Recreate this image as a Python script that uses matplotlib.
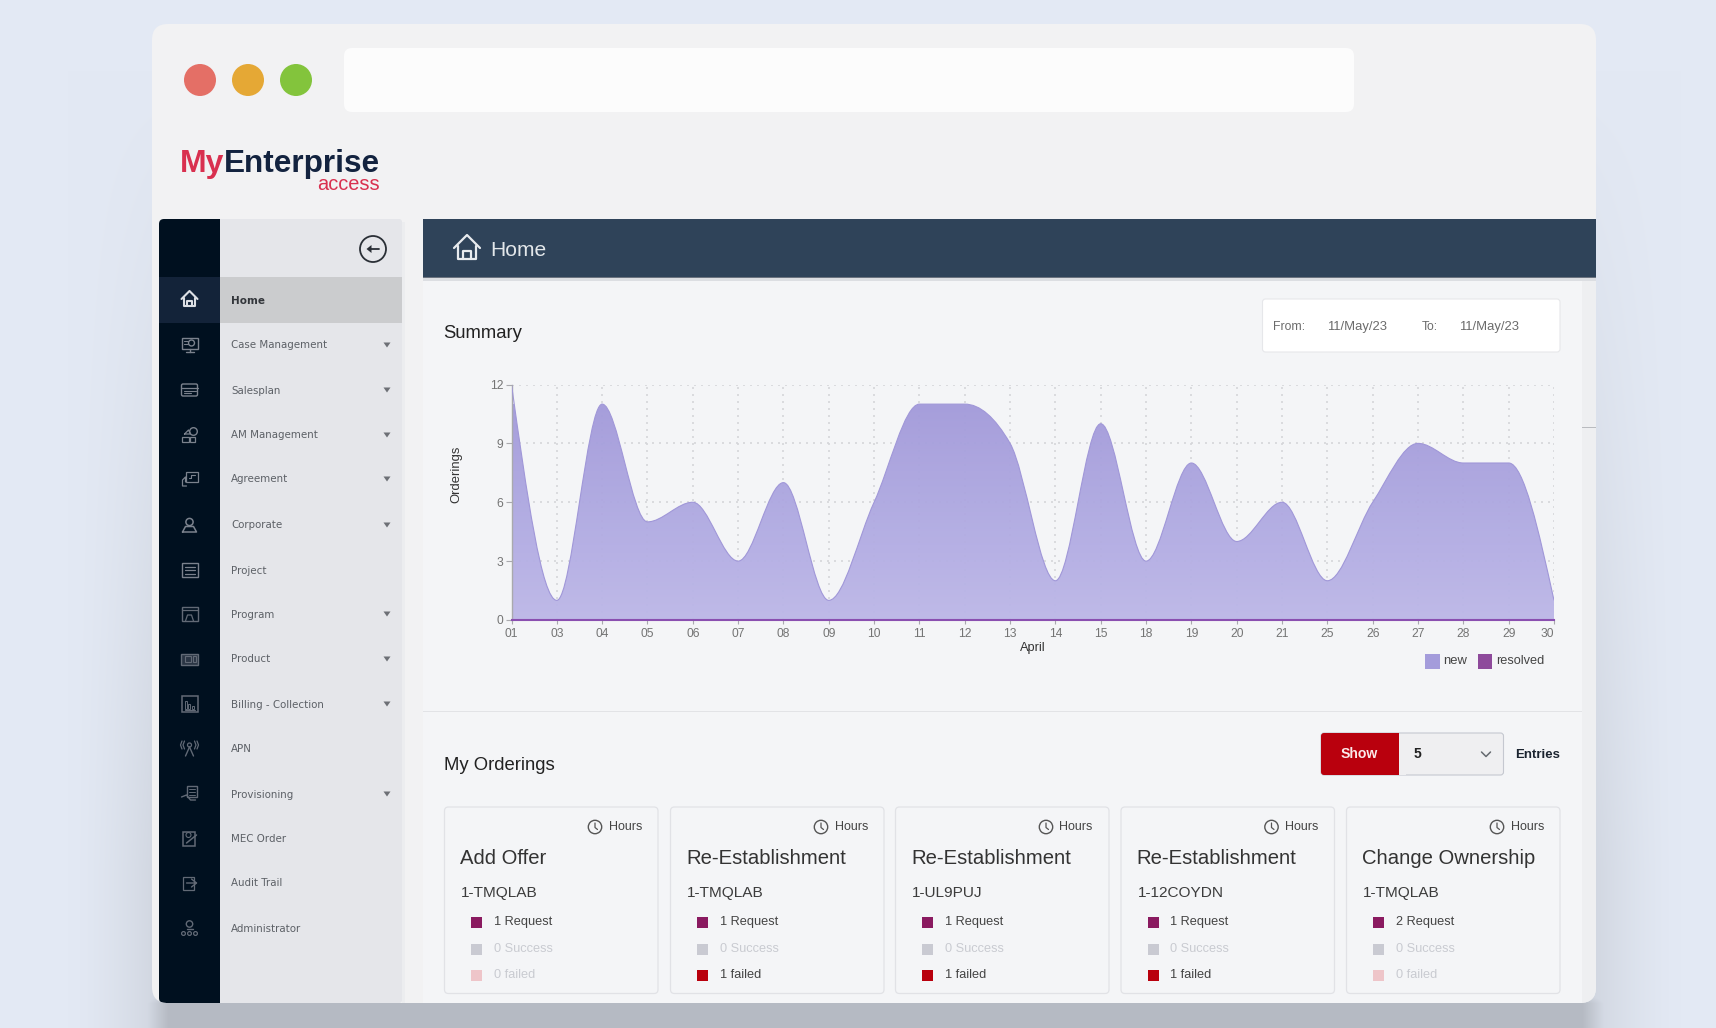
import numpy as np
import matplotlib
matplotlib.use("Agg")
import matplotlib.pyplot as plt
from matplotlib.patches import Rectangle, FancyBboxPatch, Circle, Polygon, PathPatch
from matplotlib.path import Path

# chart data
days = ["01", "03", "04", "05", "06", "07", "08", "09", "10", "11", "12", "13",
        "14", "15", "18", "19", "20", "21", "25", "26", "27", "28", "29", "30"]
new_orders = [12, 1, 11, 5, 6, 3, 7, 1, 6, 11, 11, 9, 2, 10, 3, 8, 4, 6, 2, 6, 9, 8, 8, 1]
resolved_orders = [0] * 24
y_ticks = [0, 3, 6, 9, 12]

# sidebar
menu_items = ["Home", "Case Management", "Salesplan", "AM Management", "Agreement", "Corporate",
              "Project", "Program", "Product", "Billing - Collection", "APN", "Provisioning",
              "MEC Order", "Audit Trail", "Administrator"]
menu_has_arrow = [0, 1, 1, 1, 1, 1, 0, 1, 1, 1, 0, 1, 0, 0, 0]
menu_y = [300, 345, 390, 435, 479, 525, 570, 614, 659, 704, 749, 794, 838, 883, 928]

# order cards
card_titles = ["Add Offer", "Re-Establishment", "Re-Establishment", "Re-Establishment", "Change Ownership"]
card_ids = ["1-TMQLAB", "1-TMQLAB", "1-UL9PUJ", "1-12COYDN", "1-TMQLAB"]
card_requests = [1, 1, 1, 1, 2]
card_success = [0, 0, 0, 0, 0]
card_failed = [0, 1, 1, 1, 0]
card_x = [444.5, 670.5, 895.5, 1121, 1346.5]

W, H = 1716, 1028
SANS = "Liberation Sans"
fig = plt.figure(figsize=(W / 100, H / 100), dpi=100)
ui = fig.add_axes([0, 0, 1, 1])
ui.set_xlim(0, W)
ui.set_ylim(H, 0)
ui.axis("off")


def px(size):
    return size * 0.72


def rect(x0, y0, x1, y1, color, z=2, **kw):
    ui.add_patch(Rectangle((x0, y0), x1 - x0, y1 - y0, fc=color, ec="none", zorder=z, **kw))


def rrect(x0, y0, x1, y1, r, color, edge="none", lw=1, z=2):
    p = FancyBboxPatch((x0 + r, y0 + r), x1 - x0 - 2 * r, y1 - y0 - 2 * r,
                       boxstyle=f"round,pad={r},rounding_size={r}",
                       fc=color, ec=edge, lw=lw, zorder=z)
    ui.add_patch(p)
    return p


def label(x, y, s, size, color="#333333", weight="normal", ha="left", va="center", family=SANS, **kw):
    ui.text(x, y, s, fontsize=px(size), color=color, fontweight=weight, ha=ha, va=va,
            family=family, zorder=6, **kw)


def line(xs, ys, color, lw=1.0, z=5):
    ui.plot(xs, ys, color=color, lw=lw, zorder=z, solid_capstyle="round", solid_joinstyle="round")


def box(x0, y0, x1, y1, color, lw=1.0, fill="none"):
    ui.add_patch(Rectangle((x0, y0), x1 - x0, y1 - y0, fc=fill, ec=color, lw=lw, zorder=5))


def ring(cx, cy, r, color, lw=1.0):
    ui.add_patch(Circle((cx, cy), r, fc="none", ec=color, lw=lw, zorder=5))


def house(cx, cy, s, color, lw):
    line([cx - s, cx, cx + s], [cy, cy - s, cy], color, lw)
    line([cx - 0.72 * s, cx - 0.72 * s, cx + 0.72 * s, cx + 0.72 * s],
         [cy - 0.15 * s, cy + s * 0.85, cy + s * 0.85, cy - 0.15 * s], color, lw)
    line([cx - 0.28 * s, cx - 0.28 * s, cx + 0.28 * s, cx + 0.28 * s],
         [cy + s * 0.85, cy + 0.25 * s, cy + 0.25 * s, cy + s * 0.85], color, lw)


def sidebar_icon(i, cx, cy):
    c = "#7b828d" if i < 7 else "#626a76"
    if i == 0:
        house(cx, cy - 1, 8, "#dcdfe4", 1.5)
    elif i == 1:
        box(cx - 8, cy - 7, cx + 8, cy + 4, c)
        ring(cx + 2, cy - 2, 3, c)
        line([cx - 6, cx - 2], [cy - 4, cy - 4], c, 0.8)
        line([cx - 6, cx - 2], [cy - 1, cy - 1], c, 0.8)
        line([cx - 4, cx + 4], [cy + 7, cy + 7], c, 1.0)
        line([cx, cx], [cy + 4, cy + 7], c, 1.0)
    elif i == 2:
        rrect(cx - 8, cy - 6, cx + 8, cy + 6, 1.5, "none", edge=c, lw=1.0, z=5)
        line([cx - 8, cx + 8], [cy - 2.5, cy - 2.5], c, 0.9)
        line([cx - 6, cx + 6], [cy + 0.5, cy + 0.5], c, 0.8)
        line([cx - 6, cx + 1], [cy + 3.2, cy + 3.2], c, 0.8)
    elif i == 3:
        ring(cx + 4, cy - 3.5, 3.8, c)
        line([cx - 5, cx - 1, cx + 1, cx - 5], [cy - 1, cy - 5, cy - 1, cy - 1], c, 0.9)
        box(cx - 8, cy + 1.5, cx - 1, cy + 7, c, 0.9)
        box(cx, cy + 1.5, cx + 5, cy + 7, c, 0.9)
    elif i == 4:
        box(cx - 4, cy - 7, cx + 8, cy + 3, c, 0.9)
        line([cx - 4, cx - 4, cx - 7, cx - 7, cx - 3], [cy + 3, cy - 2, cy + 1, cy + 7, cy + 7], c, 0.9)
        line([cx - 1, cx + 1, cx + 1, cx + 5], [cy - 1, cy - 1, cy - 4, cy - 4], c, 0.8)
    elif i == 5:
        ring(cx, cy - 3, 3.6, c, 1.1)
        line([cx - 7, cx - 4, cx + 4, cx + 7, cx - 7], [cy + 7, cy + 1.5, cy + 1.5, cy + 7, cy + 7], c, 1.1)
    elif i == 6:
        box(cx - 8, cy - 7, cx + 8, cy + 7, c)
        for k in (-3.5, 0, 3.5):
            line([cx - 5, cx + 5], [cy + k, cy + k], c, 0.9)
    elif i == 7:
        box(cx - 8, cy - 7, cx + 8, cy + 7, c)
        line([cx - 8, cx + 8], [cy - 4, cy - 4], c, 0.9)
        line([cx - 4, cx - 2, cx + 2, cx + 4], [cy + 7, cy + 1, cy + 1, cy + 7], c, 0.9)
    elif i == 8:
        box(cx - 8.5, cy - 5.5, cx + 8.5, cy + 5.5, c, 1.0, fill="#2a3544")
        box(cx - 5, cy - 3, cx + 1, cy + 3, c, 0.8)
        box(cx + 3, cy - 3, cx + 6, cy + 3, c, 0.8)
    elif i == 9:
        box(cx - 8, cy - 8, cx + 8, cy + 8, c, 1.1)
        for k, h in enumerate([8, 5, 3]):
            box(cx - 5 + k * 3.5, cy + 5 - h, cx - 3 + k * 3.5, cy + 5, c, 0.7)
        line([cx - 5, cx + 5], [cy + 5.5, cy + 5.5], c, 0.8)
    elif i == 10:
        line([cx, cx - 4], [cy - 2, cy + 7], c, 1.0)
        line([cx, cx + 4], [cy - 2, cy + 7], c, 1.0)
        ring(cx, cy - 4, 2, c, 0.9)
        for sx in (-1, 1):
            line([cx + sx * 5, cx + sx * 6.5, cx + sx * 5], [cy - 8, cy - 4, cy], c, 0.9)
            line([cx + sx * 7.5, cx + sx * 9, cx + sx * 7.5], [cy - 8, cy - 4, cy], c, 0.9)
    elif i == 11:
        box(cx - 3, cy - 8, cx + 7, cy + 3, c, 1.0)
        for k in (-5, -2, 1):
            line([cx - 1, cx + 5], [cy + k, cy + k], c, 0.7)
        line([cx - 8, cx - 3, cx + 1, cx + 6], [cy + 3, cy + 1, cy + 6, cy + 6], c, 1.0)
    elif i == 12:
        box(cx - 6.5, cy - 6, cx + 5, cy + 8, c, 1.1)
        ring(cx - 1, cy - 3, 2.5, c, 0.8)
        line([cx - 3, cx + 7], [cy + 5, cy - 3], c, 1.1)
    elif i == 13:
        box(cx - 7, cy - 6.5, cx + 4, cy + 6.5, c, 0.9)
        line([cx - 3, cx + 7, cx + 2], [cy, cy, cy - 4], c, 1.0)
        line([cx + 7, cx + 2], [cy, cy + 4], c, 1.0)
    else:
        ring(cx, cy - 4, 3.2, c, 1.0)
        line([cx - 3, cx + 3], [cy + 1, cy + 1], c, 1.0)
        for dx in (-6, 0, 6):
            ring(cx + dx, cy + 5.5, 1.9, c, 0.9)


# page background and the soft window shadow, weak at the top, heavier to the bottom
yy, xx = np.mgrid[0:H, 0:W]
dist_x = np.maximum(np.maximum(152 - xx, xx - 1596), 0)
side_strength = 0.075 * np.clip((yy - 70) / 800, 0, 1)
side = side_strength * np.clip(1 - dist_x / 85, 0, 1) ** 1.5
dist_b = np.maximum(np.maximum(168 - xx, xx - 1582), 0)
under = 0.2 * np.clip(1 - dist_b / 32, 0, 1) * np.clip((yy - 985) / 18, 0, 1)
shade = np.maximum(side, under)
base = np.array([227, 233, 244]) / 255
ui.imshow((base[None, None, :] * (1 - shade[..., None])), extent=(0, W, H, 0), aspect="auto", zorder=0)

# window
window = rrect(152, 24, 1596, 1003, 16, "#f2f2f3", z=1)
for cx, col in zip([200, 248, 296], ["#e46f66", "#e5a835", "#83c43c"]):
    ui.add_patch(Circle((cx, 80), 16, fc=col, ec="none", zorder=3))
rrect(344, 48, 1354, 112, 8, "#fcfcfc")

# logo
label(180, 172, "My", 32, "#d9304f", "bold", va="baseline")
label(380, 172, "Enterprise", 31.5, "#13233f", "bold", ha="right", va="baseline")
label(380, 190, "access", 20, "#d9304f", ha="right", va="baseline")

# sidebar
rrect(159, 219, 180, 1003, 5, "#00101f")
rect(166, 219, 220, 1003, "#00101f")
rect(220, 219, 397, 1003, "#e5e6ea")
rrect(380, 219, 402, 1003, 3, "#e5e6ea")
rect(402, 222, 405, 1003, "#ecedef", z=1.5)
rect(159, 277, 220, 323, "#132339", z=3)
rect(220, 277, 402, 323, "#cbccce", z=3)
ring(373, 249, 13, "#2a2f36", 1.3)
line([379, 370], [249, 249], "#2a2f36", 1.3)
ui.add_patch(Polygon([(366.5, 249), (371.5, 245), (371.5, 253)], fc="#2a2f36", ec="none", zorder=5))
for i, (item, y) in enumerate(zip(menu_items, menu_y)):
    if i == 0:
        label(231, y + 1, item, 10.4, "#33363b", "bold", family="DejaVu Sans")
    else:
        label(231, y + 0.5, item, 10.2, "#5c6066", family="DejaVu Sans")
    if menu_has_arrow[i]:
        ui.add_patch(Polygon([(383.5, y - 2.5), (390.5, y - 2.5), (387, y + 2.5)], fc="#6d7076", ec="none", zorder=5))
    sidebar_icon(i, 189.5, y)

# header bar
rect(423, 219, 1596, 277, "#2f4359", z=3)
rect(423, 277, 1596, 278, "#6c7480", z=3)
rect(423, 278, 1596, 280.5, "#dcdee2", z=3)
house(467, 248, 13, "#e8ebee", 1.6)
label(490, 251, "Home", 21, "#e3e7ea")

# main panel
rect(423, 280.5, 1582, 1003, "#f4f5f7")
rect(1582, 280.5, 1596, 1003, "#eeeff1")
rect(1582, 426.5, 1596, 427.5, "#b9bbbf", z=3)
rect(423, 710.5, 1582, 711.5, "#e2e3e6", z=3)
label(443, 334, "Summary", 18.5, "#222222")
rrect(1262.5, 299, 1560, 352, 3, "#ffffff", edge="#e6e7ea", lw=0.8)
label(1273, 327, "From:", 12.2, "#6b6b6b")
label(1327, 327, "11/May/23", 13, "#6b6b6b")
label(1422, 327, "To:", 12.2, "#6b6b6b")
label(1459, 327, "11/May/23", 13, "#6b6b6b")

# chart
ax_l, ax_r, ax_t, ax_b = 511.5, 1554, 384.5, 620
ax = fig.add_axes([ax_l / W, 1 - ax_b / H, (ax_r - ax_l) / W, (ax_b - ax_t) / H])
ax.patch.set_alpha(0)
x = np.arange(len(days))
y = np.array(new_orders, dtype=float)

# same curve as d3 monotoneX: cubic segments with limited tangents
s = np.diff(y)
t = np.zeros(len(y))
t[1:-1] = (np.sign(s[:-1]) + np.sign(s[1:])) * np.minimum(np.minimum(np.abs(s[:-1]), np.abs(s[1:])),
                                                         0.25 * np.abs(s[:-1] + s[1:]))
t[0] = (3 * s[0] - t[1]) / 2
t[-1] = (3 * s[-1] - t[-2]) / 2
verts = [(x[0], y[0])]
for i in range(len(x) - 1):
    verts += [(x[i] + 1 / 3, y[i] + t[i] / 3), (x[i + 1] - 1 / 3, y[i + 1] - t[i + 1] / 3), (x[i + 1], y[i + 1])]
codes = [Path.MOVETO] + [Path.CURVE4] * (len(verts) - 1)
top_curve = Path(verts, codes)
area = Path(verts + [(x[-1], 0), (x[0], 0), (x[0], y[0])],
            codes + [Path.LINETO, Path.LINETO, Path.CLOSEPOLY])

ax.set_xlim(0, len(days) - 1)
ax.set_ylim(0, 12)
ax.grid(True, color="#d5d6da", linestyle=(0, (1.2, 3)), linewidth=1.2, zorder=1)
ax.set_axisbelow(True)
top_col = np.array([0xa2, 0x9a, 0xda]) / 255
bot_col = np.array([0xbc, 0xb7, 0xe8]) / 255
frac = np.linspace(0, 1, 256)[:, None, None]
grad = top_col[None, None, :] * (1 - frac) + bot_col[None, None, :] * frac
img = ax.imshow(grad, extent=(0, len(days) - 1, 0, 11), aspect="auto", alpha=0.95, zorder=2, origin="upper")
clip = PathPatch(area, transform=ax.transData, fc="none", ec="none")
ax.add_patch(clip)
img.set_clip_path(clip)
ax.set_xlim(0, len(days) - 1)
ax.set_ylim(0, 12)
ax.add_patch(PathPatch(top_curve, fc="none", ec="#a097d8", lw=0.8, zorder=3))
ax.plot(x, resolved_orders, color="#8a4fb0", lw=1.5, zorder=4, clip_on=False)

for side_name in ["top", "right", "bottom"]:
    ax.spines[side_name].set_visible(False)
ax.spines["left"].set_color("#a9a9ad")
ax.spines["left"].set_linewidth(1.0)
ax.set_xticks(x)
ax.set_xticklabels(days, family=SANS, fontsize=px(12), color="#747474")
ax.get_xticklabels()[-1].set_ha("right")
ax.set_yticks(y_ticks)
ax.set_yticklabels(y_ticks, family=SANS, fontsize=px(12), color="#747474")
ax.tick_params(axis="x", length=3, width=0.8, color="#a9a9ad", pad=3)
ax.tick_params(axis="y", length=4, width=0.8, color="#a9a9ad", pad=2)

label(1033, 648, "April", 12.7, "#333333", ha="center")
label(456, 474, "Orderings", 13, "#333333", ha="center", rotation=90)
rect(1425, 654, 1440, 669, "#a49cdb")
label(1443, 661, "new", 13, "#444444")
rect(1478, 654, 1492, 669, "#8e4a9b")
label(1496, 661, "resolved", 12.7, "#444444")

# my orderings
label(444, 766, "My Orderings", 18.5, "#222222")
rrect(1321, 733, 1503.5, 775, 3, "#efeff1", edge="#c5c8d0", lw=0.8)
rrect(1321, 733, 1400, 775, 3, "#b9000d", z=3)
rect(1392, 733, 1398.6, 775, "#b9000d", z=3)
rect(1398.6, 734, 1406, 774.5, "#efeff1", z=3)
label(1359, 754, "Show", 14, "#fbe9ea", "bold", ha="center")
label(1413.5, 754, "5", 14, "#222222", "bold")
line([1481.5, 1486, 1490.5], [752, 756.5, 752], "#666a70", 1.1)
label(1515, 755, "Entries", 13.3, "#1b2430", "bold")

for i, x0 in enumerate(card_x):
    rrect(x0, 807, x0 + 213.5, 993.5, 4, "#f4f5f7", edge="#e1e2e6", lw=0.9)
    cx = x0 + 150.5
    ring(cx, 827, 6.7, "#555555", 1.0)
    line([cx, cx, cx + 2.5], [823, 827.5, 829.5], "#555555", 0.9)
    label(x0 + 164, 827, "Hours", 12.5, "#444444")
    label(x0 + 15.5, 858, card_titles[i], 20.3, "#333333")
    label(x0 + 16.5, 893, card_ids[i], 15.4, "#3c3c3c")
    rows = [(922, f"{card_requests[i]} Request", "#8a1a60", "#444444"),
            (949, f"{card_success[i]} Success",
             "#c9cad2" if card_success[i] == 0 else "#5aa05a", "#c9cbd1" if card_success[i] == 0 else "#444444"),
            (975, f"{card_failed[i]} failed",
             "#eec5c9" if card_failed[i] == 0 else "#b9000d", "#c9cbd1" if card_failed[i] == 0 else "#444444")]
    for yy_row, txt, box_col, txt_col in rows:
        rect(x0 + 26.5, yy_row - 5.5, x0 + 37.5, yy_row + 5.5, box_col, z=4)
        label(x0 + 49.5, yy_row, txt, 12.7, txt_col)

# round the corners of everything in the window
for p in ui.patches:
    if p is not window:
        p.set_clip_path(window)

fig.savefig("out.png", dpi=100)
